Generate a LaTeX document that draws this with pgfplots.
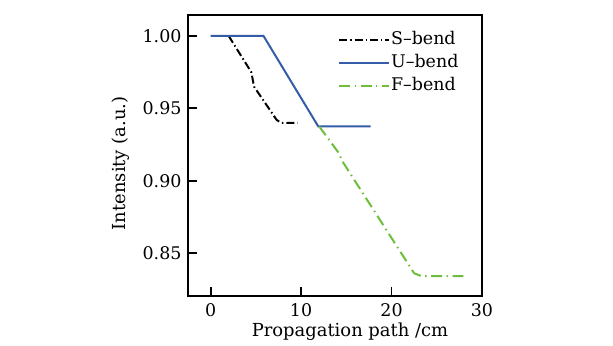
\documentclass[border=0pt]{standalone}
\usepackage{fontspec}
\setmainfont{DejaVu Serif}
\usepackage{pgfplots}
\pgfplotsset{compat=1.18}
\begin{document}
\begin{tikzpicture}
\path[fill=white] (0,0) rectangle (613bp,346bp);
\begin{axis}[
  at={(188bp,50bp)}, anchor=south west,
  scale only axis, width=294bp, height=281bp,
  xmin=-2.5, xmax=30, ymin=0.8203, ymax=1.0145,
  xtick={0,10,20,30}, ytick={0.85,0.90,0.95,1.00},
  /pgf/number format/assume math mode=true,
  yticklabel style={xshift=-3bp, /pgf/number format/.cd,fixed,fixed zerofill,precision=2},
  axis line style={line width=2.2pt},
  tick style={line width=1.8pt, black},
  major tick length=9bp,
  tick align=inside,
  xtick pos=bottom, ytick pos=left,
  ticklabel style={font=\fontsize{17.5}{20}\selectfont},
  xticklabel style={yshift=-4bp},
  label style={font=\fontsize{18}{21}\selectfont},
  xlabel={Propagation path /cm},
  ylabel={Intensity (a.u.)},
  xlabel style={at={(axis description cs:0.551,-0.145)}, anchor=base},
  ylabel style={at={(axis description cs:-0.186,0.472)}, anchor=south},
  legend style={draw=none, fill=none, at={(axis description cs:0.51,0.948)}, anchor=north west,
    font=\fontsize{17.5}{20}\selectfont, row sep=3.5bp, inner sep=0pt,
    nodes={inner sep=1bp, text height=13.5bp, text depth=4bp}},
  legend cell align=left,
  legend image code/.code={\draw[#1, line width=2pt] (0bp,0bp) -- (50bp,0bp);},
]
\addplot[black, line width=2pt, dash pattern=on 8pt off 3pt on 1.5pt off 3pt] coordinates {
(2,1.0) (4.5,0.975) (4.8,0.965) (7.3,0.942) (7.8,0.94) (9.6,0.94)};
\addlegendentry{S–bend}
\addplot[color={rgb,255:red,52;green,92;blue,168}, line width=2pt] coordinates {
(0,1.0) (5.85,1.0) (11.9,0.9375) (17.7,0.9375)};
\addlegendentry{U–bend}
\addplot[color={rgb,255:red,110;green,190;blue,60}, line width=2pt, dash pattern=on 11pt off 4.5pt on 1.5pt off 4.5pt] coordinates {
(12,0.9375) (14.3,0.918) (14.4,0.915) (22.5,0.836) (23.3,0.834) (28.3,0.834)};
\addlegendentry{F–bend}
\end{axis}
\end{tikzpicture}
\end{document}
